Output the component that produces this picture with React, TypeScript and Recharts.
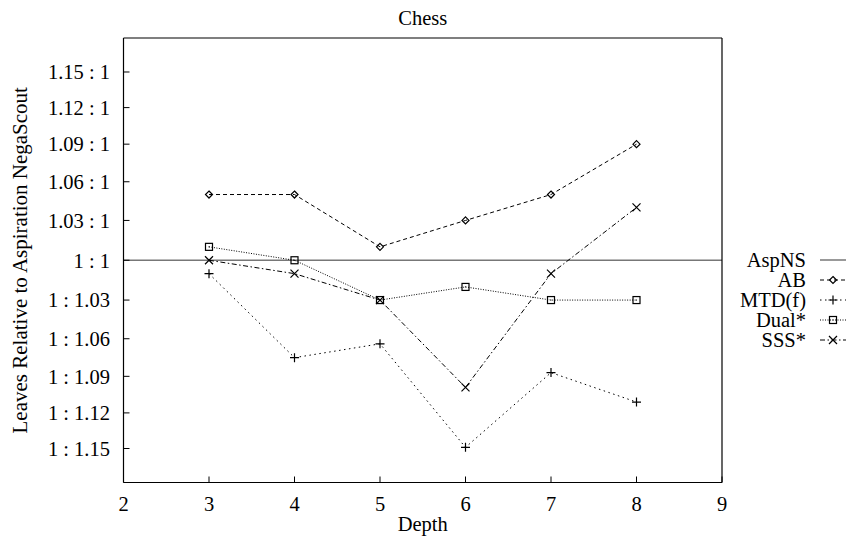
import { LineChart, Line, XAxis, YAxis, Legend, Label } from 'recharts';

// Leaves relative to Aspiration NegaScout.
// positive x means "x : 1", negative x means "1 : |x|", null = no point
const depths = [2, 3, 4, 5, 6, 7, 8, 9];
const aspNS = [1, 1, 1, 1, 1, 1, 1, 1];
const ab = [null, 1.05, 1.05, 1.01, 1.03, 1.05, 1.09, null];
const mtdf = [null, -1.01, -1.075, -1.064, -1.149, -1.087, -1.111, null];
const dual = [null, 1.01, 1, -1.03, -1.02, -1.03, -1.03, null];
const sss = [null, 1, -1.01, -1.03, -1.099, -1.01, 1.04, null];

const xTicks = [2, 3, 4, 5, 6, 7, 8, 9];
const yTickRatios = [-1.15, -1.12, -1.09, -1.06, -1.03, 1, 1.03, 1.06, 1.09, 1.12, 1.15];

const FONT = '"Liberation Serif", "Times New Roman", Times, Tinos, "Nimbus Roman", "Noto Serif", "DejaVu Serif", serif';
const FS = 20.5;
const Y_DOMAIN = [-0.165, 0.165];

// axis is logarithmic in the ratio
const toLog = (v: number | null) => (v == null ? null : v > 0 ? Math.log(v) : -Math.log(-v));
const fmtRatio = (y: number) => {
    const r = Math.round(Math.exp(Math.abs(y)) * 100) / 100;
    if (r === 1) return '1 : 1';
    return y > 0 ? `${r} : 1` : `1 : ${r}`;
};

const rows = depths.map((d, i) => ({
    depth: d,
    aspns: toLog(aspNS[i]),
    ab: toLog(ab[i]),
    mtdf: toLog(mtdf[i]),
    dual: toLog(dual[i]),
    sss: toLog(sss[i]),
}));
const yTicks = yTickRatios.map((r) => toLog(r) as number);

type Kind = 'diamond' | 'plus' | 'square' | 'cross' | null;

const SERIES: { key: string; name: string; stroke: string; width: number; dash?: string; marker: Kind }[] = [
    { key: 'aspns', name: 'AspNS', stroke: '#777', width: 1.5, marker: null },
    { key: 'ab', name: 'AB', stroke: '#000', width: 1, dash: '4 3', marker: 'diamond' },
    { key: 'mtdf', name: 'MTD(f)', stroke: '#000', width: 1, dash: '1.5 3.5', marker: 'plus' },
    { key: 'dual', name: 'Dual*', stroke: '#000', width: 1, dash: '1 1.5', marker: 'square' },
    { key: 'sss', name: 'SSS*', stroke: '#000', width: 1, dash: '5 2.5 1.5 2.5', marker: 'cross' },
];

function Marker({ kind, cx, cy }: { kind: Kind; cx: number; cy: number }) {
    const st = { fill: 'none', stroke: '#000', strokeWidth: 1.2 };
    switch (kind) {
        case 'diamond':
            return <polygon points={`${cx},${cy - 3.5} ${cx + 3.5},${cy} ${cx},${cy + 3.5} ${cx - 3.5},${cy}`} {...st} />;
        case 'plus':
            return <path d={`M${cx - 4.5},${cy}H${cx + 4.5}M${cx},${cy - 4.5}V${cy + 4.5}`} {...st} />;
        case 'square':
            return (
                <g>
                    <rect x={cx - 3.5} y={cy - 3.5} width={7} height={7} {...st} />
                    <rect x={cx - 0.5} y={cy - 0.5} width={1} height={1} fill="#000" />
                </g>
            );
        case 'cross':
            return <path d={`M${cx - 4},${cy - 4}L${cx + 4},${cy + 4}M${cx - 4},${cy + 4}L${cx + 4},${cy - 4}`} {...st} />;
        default:
            return null;
    }
}

// keep the plotting order, not the legend's alphabetical sort
const renderLegend = (props: any) => {
    const payload = props.payload || [];
    return (
        <svg width={150} height={110} style={{ display: 'block', overflow: 'visible' }}>
            {SERIES.map((s, i) => {
                const e = payload.find((p: any) => p.dataKey === s.key);
                const y = 12 + i * 20;
                return (
                    <g key={s.key}>
                        <text x={106} y={y + 6.8} textAnchor="end" fontFamily={FONT} fontSize={FS} fill="#000">
                            {e ? e.value : s.name}
                        </text>
                        <line x1={120} x2={146} y1={y} y2={y} stroke={s.stroke} strokeWidth={s.width} strokeDasharray={s.dash} />
                        {s.marker && <Marker kind={s.marker} cx={133} cy={y} />}
                    </g>
                );
            })}
        </svg>
    );
};

const tickStyle = { fill: '#000', fontSize: FS, fontFamily: FONT };
const axisLine = { stroke: '#000', strokeWidth: 1.2 };

export default function App() {
    return (
        <div style={{ position: 'absolute', left: 0, top: 0, fontFamily: FONT }}>
            <LineChart width={850} height={540} data={rows} margin={{ top: 0, right: 0, bottom: 0, left: 0.5 }}>
                <XAxis
                    dataKey="depth"
                    type="number"
                    domain={[2, 9]}
                    ticks={xTicks}
                    allowDataOverflow
                    height={57.5}
                    tickSize={-6}
                    tickMargin={20}
                    tick={tickStyle}
                    axisLine={axisLine}
                    tickLine={{ stroke: '#000' }}
                >
                    <Label value="Depth" position="insideBottom" offset={9} fill="#000" fontSize={FS} fontFamily={FONT} />
                </XAxis>
                <XAxis
                    xAxisId="top"
                    orientation="top"
                    type="number"
                    domain={[2, 9]}
                    ticks={xTicks}
                    allowDataOverflow
                    height={38}
                    tickSize={-6}
                    tick={false}
                    axisLine={axisLine}
                    tickLine={{ stroke: '#000' }}
                >
                    <Label value="Chess" position="insideTop" offset={10} fill="#000" fontSize={FS} fontFamily={FONT} />
                </XAxis>
                <YAxis
                    type="number"
                    domain={Y_DOMAIN}
                    ticks={yTicks}
                    allowDataOverflow
                    width={123}
                    tickSize={-6}
                    tickMargin={19.5}
                    tick={tickStyle}
                    tickFormatter={fmtRatio}
                    axisLine={axisLine}
                    tickLine={{ stroke: '#000' }}
                >
                    <Label
                        content={(p: any) => {
                            const vb = p.viewBox || { x: 0, y: 38, height: 444 };
                            const cx = vb.x + 26;
                            const cy = vb.y + vb.height / 2;
                            return (
                                <text x={cx} y={cy} transform={`rotate(-90 ${cx} ${cy})`} textAnchor="middle" fontFamily={FONT} fontSize={21} fill="#000">
                                    Leaves Relative to Aspiration NegaScout
                                </text>
                            );
                        }}
                    />
                </YAxis>
                <YAxis
                    yAxisId="right"
                    orientation="right"
                    type="number"
                    domain={Y_DOMAIN}
                    ticks={yTicks}
                    allowDataOverflow
                    width={128}
                    tickSize={-6}
                    tick={false}
                    axisLine={axisLine}
                    tickLine={{ stroke: '#000' }}
                />
                <Legend
                    layout="vertical"
                    align="center"
                    verticalAlign="middle"
                    content={renderLegend}
                    wrapperStyle={{ left: 700, top: 248, width: 150, height: 110 }}
                />
                {SERIES.map((s) => (
                    <Line
                        key={s.key}
                        dataKey={s.key}
                        name={s.name}
                        type="linear"
                        stroke={s.stroke}
                        strokeWidth={s.width}
                        strokeDasharray={s.dash}
                        isAnimationActive={false}
                        connectNulls={false}
                        dot={(p: any) =>
                            s.marker && p.cy != null && p.value != null ? (
                                <Marker key={`${s.key}-${p.index}`} kind={s.marker} cx={p.cx} cy={p.cy} />
                            ) : (
                                <g key={`${s.key}-${p.index}`} />
                            )
                        }
                        activeDot={false}
                    />
                ))}
            </LineChart>
        </div>
    );
}
